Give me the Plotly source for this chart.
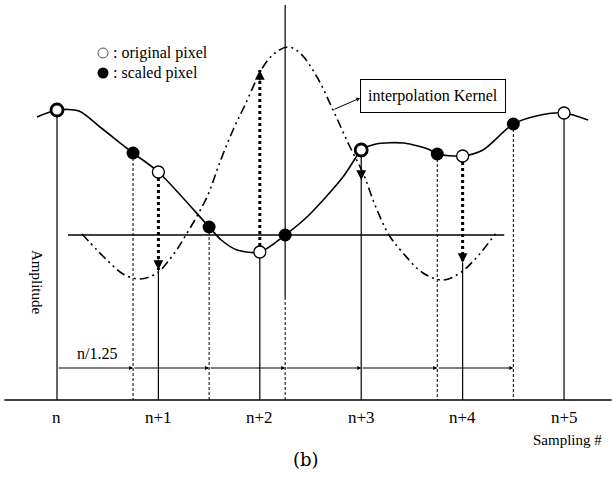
import plotly.graph_objects as go

# ---------------- data ----------------
sample_x = [0, 1, 2, 3, 4, 5]
sample_labels = ["n", "n+1", "n+2", "n+3", "n+4", "n+5"]
original_y = [2.90, 2.28, 1.48, 2.50, 2.44, 2.87]

scaled_x = [0.75, 1.5, 2.25, 3.75, 4.5]
scaled_y = [2.47, 1.73, 1.65, 2.46, 2.76]

step_x = [0, 0.75, 1.5, 2.25, 3.0, 3.75, 4.5]   # n/1.25 spacing
step_y = 0.32

signal_x = [-0.197, 0, 0.217, 0.424, 0.75, 1.0, 1.5, 1.62, 1.775, 2.0, 2.25, 2.475,
            2.82, 2.95, 3.0, 3.146, 3.42, 3.68, 3.75, 4.0, 4.2, 4.5, 4.77, 5.0, 5.237]
signal_y = [2.83, 2.90, 2.89, 2.73, 2.47, 2.28, 1.73, 1.60, 1.50, 1.48, 1.65, 1.84,
            2.23, 2.43, 2.50, 2.56, 2.57, 2.50, 2.46, 2.44, 2.50, 2.76, 2.85, 2.87, 2.80]

kernel_x = [0.247, 0.394, 0.523, 0.651, 0.819, 0.986, 1.144, 1.272, 1.479, 1.607,
            1.736, 1.854, 2.032, 2.150, 2.278, 2.396, 2.564, 2.722, 2.880, 3.018,
            3.136, 3.274, 3.412, 3.609, 3.807, 3.974, 4.142, 4.329]
kernel_y = [1.66, 1.50, 1.37, 1.26, 1.21, 1.27, 1.45, 1.65, 2.03, 2.38,
            2.70, 2.95, 3.33, 3.47, 3.53, 3.47, 3.23, 2.90, 2.55, 2.27,
            1.95, 1.65, 1.47, 1.27, 1.20, 1.27, 1.43, 1.67]
kernel_center = 2.25
kernel_zero = 1.65
kernel_zero_span = [0.108, 4.41]

# kernel weights read at the original samples (arrow tips)
weight_x = [1, 2, 3, 4]
weight_y = [1.30, 3.30, 2.20, 1.37]

# ---------------- figure ----------------
fig = go.Figure()
BLACK = "black"


def seg(x0, y0, x1, y1, width=1.2, dash="solid"):
    fig.add_trace(go.Scatter(x=[x0, x1], y=[y0, y1], mode="lines",
                             line=dict(color=BLACK, width=width, dash=dash),
                             hoverinfo="skip", showlegend=False))


def arrow_head(x, y, dy, size=1.3, width=1.5):
    fig.add_annotation(x=x, y=y, ax=x, ay=y + dy, xref="x", yref="y",
                       axref="x", ayref="y", text="", showarrow=True,
                       arrowhead=2, arrowsize=size, arrowwidth=width,
                       arrowcolor=BLACK)


# baseline
seg(-0.52, 0, 5.47, 0, width=1.4)
# kernel zero line
seg(kernel_zero_span[0], kernel_zero, kernel_zero_span[1], kernel_zero, width=1.3)
# kernel centre axis
seg(kernel_center, 3.95, kernel_center, 1.03, width=1.2)
seg(kernel_center, 1.03, kernel_center, 0, width=1, dash="3px,2px")

# dashed lines at scaled positions
for sx, sy in zip(scaled_x, scaled_y):
    if sx == kernel_center:
        continue
    seg(sx, sy, sx, 0, width=1, dash="3px,2px")

# vertical lines at original samples
wmap = dict(zip(weight_x, weight_y))
for xs, ys in zip(sample_x, original_y):
    if xs in (1, 4):
        w = wmap[xs]
        seg(xs, ys, xs, w, width=3, dash="dot")
        seg(xs, w, xs, 0, width=1.2)
        arrow_head(xs, w, 0.12)
    elif xs == 2:
        w = wmap[xs]
        seg(xs, ys, xs, w, width=3, dash="dot")
        seg(xs, ys, xs, 0, width=1.2)
        arrow_head(xs, w, -0.12)
    elif xs == 3:
        w = wmap[xs]
        seg(xs, ys, xs, 0, width=1.2)
        arrow_head(xs, w, 0.12)
    else:
        seg(xs, ys, xs, 0, width=1.2)

# spacing arrows (n/1.25)
for a, b in zip(step_x[:-1], step_x[1:]):
    fig.add_annotation(x=b, y=step_y, ax=a, ay=step_y, xref="x", yref="y",
                       axref="x", ayref="y", text="", showarrow=True,
                       arrowhead=2, arrowsize=0.8, arrowwidth=1,
                       arrowcolor=BLACK)

# interpolation kernel (dash-dot-dot)
fig.add_trace(go.Scatter(x=kernel_x, y=kernel_y, mode="lines",
                         line=dict(color=BLACK, width=1.6, shape="spline",
                                   dash="9px,4px,2px,4px,2px,4px"),
                         hoverinfo="skip", showlegend=False))

# signal curve
fig.add_trace(go.Scatter(x=signal_x, y=signal_y, mode="lines",
                         line=dict(color=BLACK, width=1.6, shape="spline", smoothing=0.8),
                         hoverinfo="skip", showlegend=False))

# original pixels (open circles), bold at n and n+3
bold = [2.8 if s in (0, 3) else 1.3 for s in sample_x]
fig.add_trace(go.Scatter(x=sample_x, y=original_y, mode="markers",
                         marker=dict(symbol="circle", size=12, color="white",
                                     line=dict(color=BLACK, width=bold)),
                         hoverinfo="skip", showlegend=False))
# scaled pixels (black dots)
fig.add_trace(go.Scatter(x=scaled_x, y=scaled_y, mode="markers",
                         marker=dict(symbol="circle", size=13, color=BLACK,
                                     line=dict(color=BLACK, width=0)),
                         hoverinfo="skip", showlegend=False))

# legend symbols
fig.add_trace(go.Scatter(x=[0.454], y=[3.47], mode="markers",
                         marker=dict(size=10, color="white",
                                     line=dict(color="#555", width=1)),
                         hoverinfo="skip", showlegend=False))
fig.add_trace(go.Scatter(x=[0.454], y=[3.27], mode="markers",
                         marker=dict(size=11, color=BLACK),
                         hoverinfo="skip", showlegend=False))

FONT = "Liberation Serif"
fig.add_annotation(x=0.53, y=3.47, text=": original pixel", showarrow=False,
                   xanchor="left", font=dict(family=FONT, size=16, color=BLACK))
fig.add_annotation(x=0.53, y=3.27, text=": scaled pixel", showarrow=False,
                   xanchor="left", font=dict(family=FONT, size=16, color=BLACK))

# interpolation kernel label box + pointer
fig.add_annotation(x=3.71, y=3.04, text="interpolation Kernel", showarrow=False,
                   bordercolor=BLACK, borderwidth=1, borderpad=7, bgcolor="white",
                   font=dict(family=FONT, size=16, color=BLACK))
fig.add_annotation(x=2.99, y=3.02, ax=2.72, ay=2.90, xref="x", yref="y",
                   axref="x", ayref="y", text="", showarrow=True,
                   arrowhead=2, arrowsize=0.8, arrowwidth=1, arrowcolor=BLACK)

# tick labels
for xs, lab in zip(sample_x, sample_labels):
    fig.add_annotation(x=xs, y=-0.17, text=lab, showarrow=False,
                       font=dict(family=FONT, size=17, color=BLACK))
fig.add_annotation(x=5.03, y=-0.40, text="Sampling #", showarrow=False,
                   font=dict(family=FONT, size=15, color=BLACK))
fig.add_annotation(x=0.39, y=0.47, text="n/1.25", showarrow=False,
                   font=dict(family=FONT, size=16, color=BLACK))
fig.add_annotation(x=-0.197, y=1.18, text="Amplitude", showarrow=False,
                   textangle=90, font=dict(family=FONT, size=15, color=BLACK))
fig.add_annotation(x=2.456, y=-0.59, text="(b)", showarrow=False,
                   font=dict(family="DejaVu Serif", size=18, color=BLACK))

fig.update_layout(
    width=612, height=495,
    margin=dict(l=0, r=0, t=0, b=0),
    paper_bgcolor="white", plot_bgcolor="white",
    xaxis=dict(range=[-0.562, 5.473], visible=False, fixedrange=True),
    yaxis=dict(range=[-0.95, 4.0], visible=False, fixedrange=True),
    showlegend=False,
)

fig.write_html("out.html")
